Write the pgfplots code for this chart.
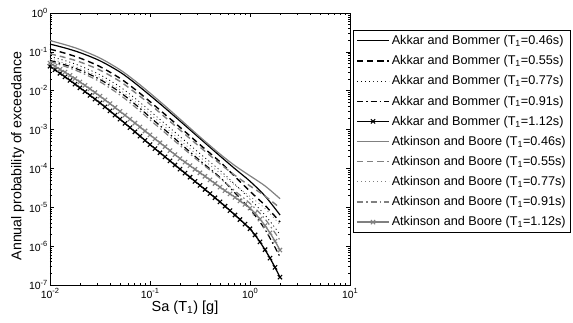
\documentclass[border=0pt]{standalone}
\usepackage{fontspec}
\setmainfont{Liberation Sans}
\usepackage{pgfplots}
\pgfplotsset{compat=1.18}
\usepackage{pgfplotstable}
\definecolor{mgray}{rgb}{0.5,0.5,0.5}
\newcommand\tp[1]{10\raisebox{0.85ex}{\fontsize{7.5}{8}\selectfont #1}}

\pgfplotstableread{
x       gs       bs       bd       gd       bdot     gdot     bdd      gdd
0.01    1.950e-1 1.585e-1 1.175e-1 8.913e-2 7.586e-2 6.607e-2 6.026e-2 5.623e-2
0.01413 1.531e-1 1.259e-1 9.226e-2 7.161e-2 5.957e-2 5.070e-2 4.624e-2 4.217e-2
0.01995 1.148e-1 9.550e-2 6.918e-2 5.495e-2 4.365e-2 3.715e-2 3.388e-2 3.020e-2
0.03162 6.918e-2 5.888e-2 4.169e-2 3.388e-2 2.570e-2 2.188e-2 1.950e-2 1.698e-2
0.05012 3.467e-2 3.020e-2 2.089e-2 1.738e-2 1.259e-2 1.047e-2 9.120e-3 7.762e-3
0.07079 1.799e-2 1.567e-2 1.084e-2 9.016e-3 6.383e-3 5.309e-3 4.519e-3 3.846e-3
0.1     8.710e-3 7.586e-3 5.248e-3 4.467e-3 3.020e-3 2.512e-3 2.089e-3 1.778e-3
0.1413  4.074e-3 3.589e-3 2.455e-3 2.089e-3 1.413e-3 1.175e-3 9.772e-4 8.318e-4
0.1995  1.862e-3 1.660e-3 1.148e-3 9.772e-4 6.607e-4 5.370e-4 4.467e-4 3.890e-4
0.3162  6.457e-4 5.888e-4 4.074e-4 3.548e-4 2.399e-4 1.950e-4 1.585e-4 1.445e-4
0.5012  2.344e-4 2.089e-4 1.479e-4 1.318e-4 8.913e-5 7.586e-5 5.888e-5 5.623e-5
0.7079  1.175e-4 9.772e-5 6.166e-5 6.607e-5 3.890e-5 3.715e-5 2.344e-5 2.630e-5
1       6.457e-5 4.677e-5 2.570e-5 3.548e-5 1.622e-5 1.905e-5 8.913e-6 1.259e-5
1.413   3.548e-5 1.950e-5 1.122e-5 1.950e-5 6.310e-6 9.333e-6 2.692e-6 5.012e-6
2       1.660e-5 6.310e-6 4.169e-6 9.550e-6 1.995e-6 3.548e-6 5.248e-7 1.413e-6
}\sparse

\pgfplotstableread{
x       bx       gx
0.01    4.266e-2 5.129e-2
0.01122 3.467e-2 4.266e-2
0.01259 2.812e-2 3.540e-2
0.01413 2.275e-2 2.999e-2
0.01585 1.837e-2 2.477e-2
0.01778 1.479e-2 2.042e-2
0.01995 1.189e-2 1.679e-2
0.02239 9.528e-3 1.365e-2
0.02512 7.621e-3 1.109e-2
0.02818 6.081e-3 8.995e-3
0.03162 4.842e-3 7.244e-3
0.03548 3.823e-3 5.789e-3
0.03981 3.010e-3 4.660e-3
0.04467 2.363e-3 3.702e-3
0.05012 1.852e-3 2.934e-3
0.05623 1.447e-3 2.347e-3
0.06310 1.128e-3 1.860e-3
0.07079 8.779e-4 1.474e-3
0.07943 6.816e-4 1.166e-3
0.08913 5.290e-4 9.194e-4
0.1     4.107e-4 7.304e-4
0.1122  3.225e-4 5.775e-4
0.1259  2.532e-4 4.576e-4
0.1413  1.988e-4 3.618e-4
0.1585  1.561e-4 2.861e-4
0.1778  1.226e-4 2.267e-4
0.1995  9.627e-5 1.793e-4
0.2239  7.559e-5 1.454e-4
0.2512  5.935e-5 1.176e-4
0.2818  4.660e-5 9.517e-5
0.3162  3.659e-5 7.736e-5
0.3548  2.873e-5 6.288e-5
0.3981  2.252e-5 5.076e-5
0.4467  1.760e-5 4.097e-5
0.5012  1.372e-5 3.291e-5
0.5623  1.065e-5 2.676e-5
0.6310  8.233e-6 2.215e-5
0.7079  6.332e-6 1.805e-5
0.7943  4.848e-6 1.464e-5
0.8913  3.694e-6 1.182e-5
1       2.802e-6 9.495e-6
1.122   1.939e-6 7.039e-6
1.259   1.281e-6 4.984e-6
1.413   8.083e-7 3.370e-6
1.585   4.926e-7 2.200e-6
1.778   2.854e-7 1.351e-6
1.995   1.587e-7 7.952e-7
}\dense

\begin{document}
\begin{tikzpicture}
\begin{axis}[name=ax, scale only axis, width=300bp, height=272bp,
  xmode=log, ymode=log, xmin=0.01, xmax=10, ymin=1e-7, ymax=1,
  xtick={0.01,0.1,1,10},
  xticklabels={\tp{-2},\tp{-1},\tp{0},\tp{1}},
  ytick={1e-7,1e-6,1e-5,1e-4,1e-3,1e-2,1e-1,1},
  yticklabels={\tp{-7},\tp{-6},\tp{-5},\tp{-4},\tp{-3},\tp{-2},\tp{-1},\tp{0}},
  minor xtick={0.02,0.03,0.04,0.05,0.06,0.07,0.08,0.09,0.2,0.3,0.4,0.5,0.6,0.7,0.8,0.9,2,3,4,5,6,7,8,9},
  minor ytick={2e-7,3e-7,4e-7,5e-7,6e-7,7e-7,8e-7,9e-7,
               2e-6,3e-6,4e-6,5e-6,6e-6,7e-6,8e-6,9e-6,
               2e-5,3e-5,4e-5,5e-5,6e-5,7e-5,8e-5,9e-5,
               2e-4,3e-4,4e-4,5e-4,6e-4,7e-4,8e-4,9e-4,
               2e-3,3e-3,4e-3,5e-3,6e-3,7e-3,8e-3,9e-3,
               0.02,0.03,0.04,0.05,0.06,0.07,0.08,0.09,
               0.2,0.3,0.4,0.5,0.6,0.7,0.8,0.9},
  tick label style={font=\fontsize{10.5}{12}\selectfont},
  xticklabel style={inner sep=2bp, yshift=-1.5bp},
  yticklabel style={inner sep=2.5bp},
  tick style={black, line width=0.5pt},
  major tick length=4bp, minor tick length=2.2bp,
  axis line style={line width=0.8pt},
  xlabel={Sa (T\textsubscript{1}) [g]},
  ylabel={Annual probability of exceedance},
  every axis x label/.style={at={(rel axis cs:0.45,-0.058)}, anchor=north, inner sep=0pt, font=\fontsize{14.6}{17}\selectfont},
  every axis y label/.style={at={(rel axis cs:-0.108,0.474)}, anchor=center, rotate=90, inner sep=0pt, font=\fontsize{14.2}{17}\selectfont},
  legend style={at={(rel axis cs:1.01,0.9375)}, anchor=north west, draw=black, line width=0.7pt,
     font=\fontsize{12.7}{14}\selectfont, inner xsep=3bp, inner ysep=3bp, row sep=5.5bp,
     nodes={inner sep=2bp}},
  legend cell align=left,
  legend image code/.code={\draw[mark repeat=2,mark phase=2,#1] plot coordinates {(0bp,0bp) (16bp,0bp) (32bp,0bp)};},
]
\addplot[black, line width=1.2bp, smooth] table[x=x, y=bs] {\sparse};
\addlegendentry{Akkar and Bommer (T\textsubscript{1}=0.46s)}
\addplot[black, line width=1.4bp, dash pattern=on 6bp off 4bp, smooth] table[x=x, y=bd] {\sparse};
\addlegendentry{Akkar and Bommer (T\textsubscript{1}=0.55s)}
\addplot[black, line width=0.8bp, dash pattern=on 1bp off 3bp, smooth] table[x=x, y=bdot] {\sparse};
\addlegendentry{Akkar and Bommer (T\textsubscript{1}=0.77s)}
\addplot[black, line width=1.2bp, dash pattern=on 6bp off 3bp on 1.5bp off 3bp, smooth] table[x=x, y=bdd] {\sparse};
\addlegendentry{Akkar and Bommer (T\textsubscript{1}=0.91s)}
\addplot[black, line width=1.3bp, mark=x, mark size=3bp, mark options={solid, line width=1.1bp}] table[x=x, y=bx] {\dense};
\addlegendentry{Akkar and Bommer (T\textsubscript{1}=1.12s)}
\addplot[mgray, line width=1.2bp, smooth] table[x=x, y=gs] {\sparse};
\addlegendentry{Atkinson and Boore (T\textsubscript{1}=0.46s)}
\addplot[mgray, line width=1.4bp, dash pattern=on 6bp off 4bp, smooth] table[x=x, y=gd] {\sparse};
\addlegendentry{Atkinson and Boore (T\textsubscript{1}=0.55s)}
\addplot[mgray, line width=0.8bp, dash pattern=on 1bp off 3bp, smooth] table[x=x, y=gdot] {\sparse};
\addlegendentry{Atkinson and Boore (T\textsubscript{1}=0.77s)}
\addplot[mgray, line width=1.2bp, dash pattern=on 6bp off 3bp on 1.5bp off 3bp, smooth] table[x=x, y=gdd] {\sparse};
\addlegendentry{Atkinson and Boore (T\textsubscript{1}=0.91s)}
\addplot[mgray, line width=1.3bp, mark=x, mark size=3bp, mark options={solid, line width=1.1bp}] table[x=x, y=gx] {\dense};
\addlegendentry{Atkinson and Boore (T\textsubscript{1}=1.12s)}
\end{axis}
\pgfresetboundingbox
\path ([shift={(-50bp,-38bp)}]ax.south west) rectangle ([shift={(223bp,13bp)}]ax.north east);
\end{tikzpicture}
\end{document}
